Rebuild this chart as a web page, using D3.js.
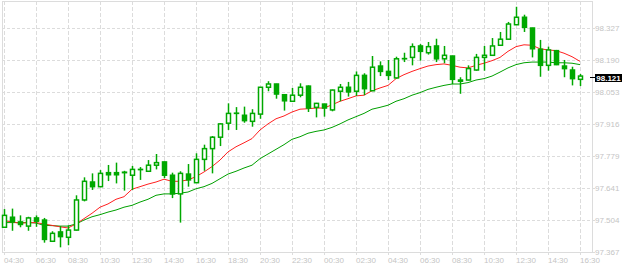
<!DOCTYPE html>
<html><head><meta charset="utf-8">
<script src="https://cdn.jsdelivr.net/npm/d3@7"></script>
<style>body{margin:0;background:#fff}svg{display:block}</style>
</head><body>
<svg id="c" width="624" height="266"></svg>
<script>
const openPrices = [97.473,97.516,97.496,97.478,97.513,97.504,97.413,97.453,97.430,97.461,97.590,97.667,97.647,97.707,97.707,97.709,97.696,97.721,97.713,97.739,97.753,97.696,97.616,97.701,97.664,97.764,97.810,97.859,97.919,97.961,97.953,97.927,97.958,98.073,98.087,98.041,98.013,98.039,98.078,97.987,98.001,97.976,98.056,98.073,98.056,98.124,98.058,98.164,98.141,98.113,98.195,98.201,98.250,98.221,98.250,98.195,98.207,98.104,98.104,98.147,98.201,98.210,98.253,98.279,98.341,98.373,98.327,98.236,98.167,98.230,98.164,98.147,98.107];
const highPrices = [97.551,97.553,97.524,97.518,97.524,97.513,97.456,97.478,97.481,97.610,97.687,97.704,97.718,97.740,97.750,97.715,97.736,97.731,97.761,97.787,97.755,97.707,97.713,97.744,97.790,97.827,97.864,97.919,98.004,97.988,97.990,97.979,98.073,98.099,98.088,98.044,98.070,98.090,98.081,98.006,98.002,98.063,98.087,98.096,98.141,98.133,98.207,98.184,98.190,98.204,98.221,98.261,98.258,98.267,98.281,98.250,98.208,98.116,98.167,98.216,98.250,98.284,98.310,98.353,98.418,98.384,98.328,98.276,98.247,98.233,98.190,98.161,98.130];
const lowPrices = [97.470,97.458,97.473,97.458,97.475,97.407,97.411,97.387,97.396,97.459,97.584,97.633,97.645,97.671,97.661,97.630,97.633,97.676,97.712,97.721,97.684,97.598,97.493,97.647,97.663,97.715,97.704,97.821,97.890,97.890,97.921,97.904,97.938,98.056,98.024,97.973,98.012,98.030,97.967,97.944,97.947,97.970,98.013,98.033,98.036,98.039,98.057,98.121,98.104,98.112,98.181,98.167,98.187,98.213,98.181,98.176,98.086,98.045,98.103,98.144,98.144,98.209,98.252,98.278,98.340,98.310,98.201,98.118,98.144,98.168,98.116,98.081,98.078];
const closePrices = [97.524,97.496,97.485,97.513,97.499,97.421,97.447,97.433,97.461,97.590,97.670,97.647,97.704,97.698,97.698,97.707,97.721,97.720,97.739,97.750,97.696,97.616,97.704,97.676,97.764,97.810,97.859,97.916,97.961,97.962,97.930,97.961,98.073,98.087,98.044,98.015,98.039,98.073,97.984,98.004,97.984,98.061,98.073,98.053,98.124,98.067,98.159,98.141,98.124,98.195,98.196,98.247,98.227,98.247,98.195,98.210,98.107,98.099,98.153,98.201,98.210,98.250,98.279,98.344,98.373,98.330,98.238,98.167,98.233,98.170,98.153,98.110,98.121];
const maFast = [97.501,97.496,97.490,97.493,97.493,97.487,97.481,97.475,97.470,97.487,97.510,97.533,97.559,97.573,97.593,97.604,97.636,97.647,97.658,97.667,97.679,97.670,97.670,97.676,97.690,97.710,97.733,97.761,97.796,97.818,97.835,97.853,97.890,97.916,97.938,97.950,97.967,97.979,97.981,97.984,97.984,97.998,98.013,98.024,98.036,98.039,98.058,98.070,98.081,98.110,98.127,98.141,98.153,98.164,98.170,98.173,98.167,98.159,98.156,98.167,98.176,98.187,98.201,98.227,98.247,98.255,98.253,98.238,98.233,98.230,98.219,98.204,98.184];
const maSlow = [97.493,97.493,97.493,97.493,97.491,97.481,97.480,97.478,97.478,97.487,97.504,97.518,97.527,97.538,97.547,97.559,97.567,97.581,97.593,97.610,97.616,97.616,97.619,97.624,97.638,97.647,97.661,97.681,97.701,97.713,97.727,97.739,97.767,97.787,97.807,97.827,97.850,97.861,97.876,97.884,97.890,97.901,97.916,97.933,97.947,97.961,97.979,97.987,97.996,98.013,98.024,98.039,98.050,98.064,98.073,98.081,98.087,98.087,98.093,98.104,98.110,98.121,98.138,98.156,98.170,98.178,98.181,98.181,98.181,98.178,98.178,98.176,98.170];
const timeLabels = ["04:30","06:30","08:30","10:30","12:30","14:30","16:30","18:30","20:30","22:30","00:30","02:30","04:30","06:30","08:30","10:30","12:30","14:30","16:30"];
const priceTicks = [97.367,97.504,97.641,97.779,97.916,98.053,98.190,98.327];
const lastPrice = 98.121;

const svg = d3.select("#c");
const plotLeft = 2, plotRight = 592, plotTop = 1, plotBottom = 252;
const n = closePrices.length;
const x = d3.scaleLinear().domain([0, n - 1]).range([4, 580]);
const y = d3.scaleLinear().domain([priceTicks[0], priceTicks[priceTicks.length - 1]]).range([252, 28]);
const gridC = "#dcdcdc", textC = "#c4c4c4", up = "#00a800";
const font = "Liberation Sans, Arial, sans-serif";

// grid
const g = svg.append("g");
g.selectAll("line.h").data(priceTicks).join("line")
  .attr("x1", plotLeft).attr("x2", plotRight + 3)
  .attr("y1", d => Math.round(y(d)) + 0.5).attr("y2", d => Math.round(y(d)) + 0.5)
  .attr("stroke", gridC).attr("stroke-dasharray", "3,2");
const tickIdx = timeLabels.map((t, i) => i * 4);
g.selectAll("line.v").data(tickIdx).join("line")
  .attr("x1", d => Math.round(x(d)) + 0.5).attr("x2", d => Math.round(x(d)) + 0.5)
  .attr("y1", plotTop).attr("y2", plotBottom + 3)
  .attr("stroke", gridC).attr("stroke-dasharray", "4,2");
// frame
svg.append("rect").attr("x", plotLeft + 0.5).attr("y", plotTop + 0.5)
  .attr("width", plotRight - plotLeft).attr("height", plotBottom - plotTop)
  .attr("fill", "none").attr("stroke", gridC);
// axis ticks right
svg.selectAll("line.rt").data(priceTicks).join("line")
  .attr("x1", plotRight).attr("x2", plotRight + 3)
  .attr("y1", d => Math.round(y(d)) + 0.5).attr("y2", d => Math.round(y(d)) + 0.5)
  .attr("stroke", gridC);
svg.selectAll("text.py").data(priceTicks).join("text")
  .attr("x", 595).attr("y", d => y(d) + 3)
  .attr("font-family", font).attr("font-size", 8)
  .attr("fill", textC).text(d => d.toFixed(3));
svg.selectAll("text.tx").data(timeLabels).join("text")
  .attr("x", (d, i) => Math.round(x(i * 4))).attr("y", 262.5)
  .attr("text-anchor", "start")
  .attr("font-family", font).attr("font-size", 8)
  .attr("fill", textC).text(d => d);

// moving averages
const line = d3.line().x((d, i) => x(i)).y(d => y(d)).curve(d3.curveLinear);
svg.append("path").attr("d", line(maSlow)).attr("fill", "none").attr("stroke", "#00a000").attr("stroke-width", 1);
svg.append("path").attr("d", line(maFast)).attr("fill", "none").attr("stroke", "#ff2020").attr("stroke-width", 1);

// candles
const idx = d3.range(n);
const cg = svg.append("g");
cg.selectAll("line.w").data(idx).join("line")
  .attr("x1", i => Math.round(x(i)) + 0.5).attr("x2", i => Math.round(x(i)) + 0.5)
  .attr("y1", i => y(highPrices[i])).attr("y2", i => y(lowPrices[i]))
  .attr("stroke", up).attr("stroke-width", 1.5);
cg.selectAll("rect.b").data(idx).join("rect")
  .attr("x", i => Math.round(x(i)) - 1.5)
  .attr("width", 4)
  .attr("y", i => y(Math.max(openPrices[i], closePrices[i])))
  .attr("height", i => Math.max(0.01, Math.abs(y(openPrices[i]) - y(closePrices[i]))))
  .attr("fill", i => closePrices[i] >= openPrices[i] ? "#fff" : up)
  .attr("stroke", up).attr("stroke-width", 1.5);

// last price marker
const ly = y(lastPrice);
svg.append("line").attr("x1", 590).attr("x2", 596).attr("y1", Math.round(ly) + 1.5).attr("y2", Math.round(ly) + 1.5).attr("stroke", "#000");
svg.append("rect").attr("x", 595).attr("y", Math.round(ly) - 2).attr("width", 27).attr("height", 8).attr("fill", "#000");
svg.append("text").attr("x", 608.5).attr("y", Math.round(ly) + 5).attr("text-anchor", "middle")
  .attr("font-family", font).attr("font-size", 8).attr("font-weight", "bold")
  .attr("fill", "#fff").text(lastPrice.toFixed(3));
</script>
</body></html>
